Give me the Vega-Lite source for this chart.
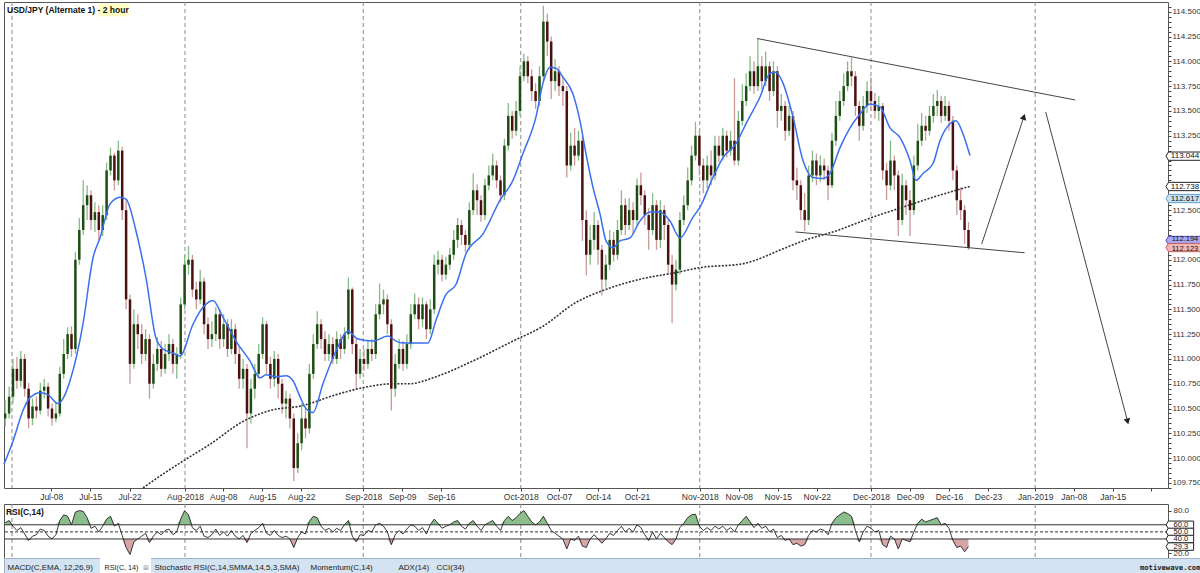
{
"$schema": "https://vega.github.io/schema/vega-lite/v6.json",
"padding": {"left": 0, "top": 1, "right": 0, "bottom": 0},
"background": "white",
"spacing": 16,
"bounds": "flush",
"config": {"view": {"stroke": "#555"}, "font": "Liberation Sans", "axis": {"labelFont": "Liberation Sans", "labelColor": "#333", "tickColor": "#444", "domainColor": "#444"}},
"datasets": {
"months": [{"t":-0.13},{"t":22.05},{"t":44.9},{"t":65.1},{"t":88.05},{"t":110},{"t":131.05}],
"bars": [
{"t":-1,"o":110.40,"h":110.58,"l":110.32,"c":110.45},
{"t":-0.5,"o":110.45,"h":110.72,"l":110.40,"c":110.62},
{"t":0,"o":110.62,"h":111.00,"l":110.55,"c":110.90},
{"t":0.5,"o":110.90,"h":111.02,"l":110.70,"c":110.78},
{"t":1,"o":110.78,"h":111.08,"l":110.72,"c":111.00},
{"t":1.5,"o":111.00,"h":111.05,"l":110.62,"c":110.70},
{"t":2,"o":110.70,"h":110.76,"l":110.30,"c":110.40},
{"t":2.5,"o":110.40,"h":110.60,"l":110.33,"c":110.52},
{"t":3,"o":110.52,"h":110.62,"l":110.40,"c":110.48},
{"t":3.5,"o":110.48,"h":110.76,"l":110.44,"c":110.68},
{"t":4,"o":110.68,"h":110.80,"l":110.60,"c":110.72},
{"t":4.5,"o":110.72,"h":110.76,"l":110.42,"c":110.50},
{"t":5,"o":110.50,"h":110.55,"l":110.33,"c":110.40},
{"t":5.5,"o":110.40,"h":110.56,"l":110.36,"c":110.45},
{"t":6,"o":110.45,"h":110.92,"l":110.42,"c":110.85},
{"t":6.5,"o":110.85,"h":111.20,"l":110.80,"c":111.05},
{"t":7,"o":111.05,"h":111.32,"l":111.00,"c":111.25},
{"t":7.5,"o":111.25,"h":111.33,"l":111.02,"c":111.10},
{"t":8,"o":111.10,"h":112.08,"l":111.05,"c":112.00},
{"t":8.5,"o":112.00,"h":112.42,"l":111.95,"c":112.30},
{"t":9,"o":112.30,"h":112.80,"l":112.25,"c":112.55},
{"t":9.5,"o":112.55,"h":112.75,"l":112.40,"c":112.65},
{"t":10,"o":112.65,"h":112.70,"l":112.30,"c":112.40},
{"t":10.5,"o":112.40,"h":112.58,"l":112.28,"c":112.48},
{"t":11,"o":112.48,"h":112.55,"l":112.20,"c":112.30},
{"t":11.5,"o":112.30,"h":112.55,"l":112.24,"c":112.45},
{"t":12,"o":112.45,"h":112.98,"l":112.40,"c":112.90},
{"t":12.5,"o":112.90,"h":113.13,"l":112.85,"c":113.05},
{"t":13,"o":113.05,"h":113.08,"l":112.70,"c":112.80},
{"t":13.5,"o":112.80,"h":113.20,"l":112.75,"c":113.10},
{"t":14,"o":113.10,"h":113.14,"l":112.40,"c":112.50},
{"t":14.5,"o":112.50,"h":112.60,"l":111.50,"c":111.60},
{"t":15,"o":111.60,"h":111.65,"l":110.75,"c":110.95},
{"t":15.5,"o":110.95,"h":111.50,"l":110.90,"c":111.35},
{"t":16,"o":111.35,"h":111.45,"l":111.10,"c":111.25},
{"t":16.5,"o":111.25,"h":111.35,"l":110.95,"c":111.05},
{"t":17,"o":111.05,"h":111.30,"l":110.98,"c":111.20},
{"t":17.5,"o":111.20,"h":111.25,"l":110.60,"c":110.75},
{"t":18,"o":110.75,"h":111.05,"l":110.70,"c":110.95},
{"t":18.5,"o":110.95,"h":111.22,"l":110.88,"c":111.10},
{"t":19,"o":111.10,"h":111.18,"l":110.82,"c":110.90},
{"t":19.5,"o":110.90,"h":111.15,"l":110.85,"c":111.05},
{"t":20,"o":111.05,"h":111.25,"l":110.98,"c":111.15},
{"t":20.5,"o":111.15,"h":111.20,"l":110.85,"c":110.95},
{"t":21,"o":110.95,"h":111.12,"l":110.80,"c":111.05},
{"t":21.5,"o":111.05,"h":111.62,"l":111.00,"c":111.55},
{"t":22,"o":111.55,"h":112.05,"l":111.50,"c":111.95},
{"t":22.5,"o":111.95,"h":112.14,"l":111.85,"c":112.00},
{"t":23,"o":112.00,"h":112.05,"l":111.62,"c":111.70},
{"t":23.5,"o":111.70,"h":111.78,"l":111.50,"c":111.60},
{"t":24,"o":111.60,"h":111.90,"l":111.55,"c":111.78},
{"t":24.5,"o":111.78,"h":111.82,"l":111.25,"c":111.35},
{"t":25,"o":111.35,"h":111.42,"l":111.10,"c":111.20},
{"t":25.5,"o":111.20,"h":111.38,"l":111.12,"c":111.25},
{"t":26,"o":111.25,"h":111.52,"l":111.18,"c":111.45},
{"t":26.5,"o":111.45,"h":111.50,"l":111.10,"c":111.20},
{"t":27,"o":111.20,"h":111.45,"l":111.12,"c":111.35},
{"t":27.5,"o":111.35,"h":111.40,"l":111.02,"c":111.10},
{"t":28,"o":111.10,"h":111.40,"l":111.05,"c":111.30},
{"t":28.5,"o":111.30,"h":111.35,"l":110.95,"c":111.05},
{"t":29,"o":111.05,"h":111.12,"l":110.70,"c":110.80},
{"t":29.5,"o":110.80,"h":111.00,"l":110.70,"c":110.90},
{"t":30,"o":110.90,"h":110.95,"l":110.10,"c":110.45},
{"t":30.5,"o":110.45,"h":110.80,"l":110.35,"c":110.70},
{"t":31,"o":110.70,"h":110.95,"l":110.60,"c":110.85},
{"t":31.5,"o":110.85,"h":111.15,"l":110.80,"c":111.05},
{"t":32,"o":111.05,"h":111.42,"l":111.00,"c":111.35},
{"t":32.5,"o":111.35,"h":111.38,"l":110.85,"c":110.95},
{"t":33,"o":110.95,"h":111.02,"l":110.70,"c":110.80},
{"t":33.5,"o":110.80,"h":111.08,"l":110.72,"c":111.00},
{"t":34,"o":111.00,"h":111.05,"l":110.60,"c":110.75},
{"t":34.5,"o":110.75,"h":110.80,"l":110.45,"c":110.55},
{"t":35,"o":110.55,"h":110.68,"l":110.40,"c":110.60},
{"t":35.5,"o":110.60,"h":110.65,"l":110.30,"c":110.40},
{"t":36,"o":110.40,"h":110.45,"l":109.77,"c":109.90},
{"t":36.5,"o":109.90,"h":110.25,"l":109.85,"c":110.15},
{"t":37,"o":110.15,"h":110.55,"l":110.08,"c":110.40},
{"t":37.5,"o":110.40,"h":110.50,"l":110.20,"c":110.30},
{"t":38,"o":110.30,"h":110.95,"l":110.25,"c":110.85},
{"t":38.5,"o":110.85,"h":111.25,"l":110.80,"c":111.15},
{"t":39,"o":111.15,"h":111.48,"l":111.10,"c":111.35},
{"t":39.5,"o":111.35,"h":111.40,"l":111.10,"c":111.20},
{"t":40,"o":111.20,"h":111.28,"l":110.98,"c":111.05},
{"t":40.5,"o":111.05,"h":111.25,"l":110.98,"c":111.15},
{"t":41,"o":111.15,"h":111.22,"l":110.95,"c":111.00},
{"t":41.5,"o":111.00,"h":111.28,"l":110.95,"c":111.20},
{"t":42,"o":111.20,"h":111.25,"l":111.00,"c":111.10},
{"t":42.5,"o":111.10,"h":111.32,"l":111.05,"c":111.25},
{"t":43,"o":111.25,"h":111.82,"l":111.20,"c":111.70},
{"t":43.5,"o":111.70,"h":111.72,"l":111.05,"c":111.15},
{"t":44,"o":111.15,"h":111.20,"l":110.69,"c":110.85},
{"t":44.5,"o":110.85,"h":111.10,"l":110.80,"c":111.00},
{"t":45,"o":111.00,"h":111.10,"l":110.88,"c":110.95},
{"t":45.5,"o":110.95,"h":111.18,"l":110.90,"c":111.10},
{"t":46,"o":111.10,"h":111.20,"l":110.98,"c":111.05},
{"t":46.5,"o":111.05,"h":111.55,"l":111.00,"c":111.45},
{"t":47,"o":111.45,"h":111.76,"l":111.40,"c":111.55},
{"t":47.5,"o":111.55,"h":111.70,"l":111.45,"c":111.60},
{"t":48,"o":111.60,"h":111.65,"l":111.25,"c":111.35},
{"t":48.5,"o":111.35,"h":111.40,"l":110.48,"c":110.70},
{"t":49,"o":110.70,"h":111.05,"l":110.62,"c":110.95},
{"t":49.5,"o":110.95,"h":111.20,"l":110.90,"c":111.10},
{"t":50,"o":111.10,"h":111.18,"l":110.88,"c":110.95},
{"t":50.5,"o":110.95,"h":111.25,"l":110.90,"c":111.15},
{"t":51,"o":111.15,"h":111.55,"l":111.10,"c":111.45},
{"t":51.5,"o":111.45,"h":111.66,"l":111.40,"c":111.55},
{"t":52,"o":111.55,"h":111.62,"l":111.30,"c":111.40},
{"t":52.5,"o":111.40,"h":111.62,"l":111.32,"c":111.55},
{"t":53,"o":111.55,"h":111.58,"l":111.20,"c":111.30},
{"t":53.5,"o":111.30,"h":111.60,"l":111.25,"c":111.50},
{"t":54,"o":111.50,"h":112.05,"l":111.45,"c":111.95},
{"t":54.5,"o":111.95,"h":112.09,"l":111.85,"c":112.00},
{"t":55,"o":112.00,"h":112.05,"l":111.78,"c":111.85},
{"t":55.5,"o":111.85,"h":112.03,"l":111.80,"c":111.95},
{"t":56,"o":111.95,"h":112.12,"l":111.90,"c":112.05},
{"t":56.5,"o":112.05,"h":112.30,"l":112.00,"c":112.20},
{"t":57,"o":112.20,"h":112.42,"l":112.12,"c":112.35},
{"t":57.5,"o":112.35,"h":112.40,"l":112.15,"c":112.25},
{"t":58,"o":112.25,"h":112.30,"l":112.08,"c":112.15},
{"t":58.5,"o":112.15,"h":112.58,"l":112.10,"c":112.50},
{"t":59,"o":112.50,"h":112.87,"l":112.45,"c":112.70},
{"t":59.5,"o":112.70,"h":112.76,"l":112.45,"c":112.60},
{"t":60,"o":112.60,"h":112.65,"l":112.38,"c":112.45},
{"t":60.5,"o":112.45,"h":112.82,"l":112.40,"c":112.75},
{"t":61,"o":112.75,"h":112.95,"l":112.70,"c":112.85},
{"t":61.5,"o":112.85,"h":113.07,"l":112.80,"c":112.95},
{"t":62,"o":112.95,"h":113.00,"l":112.72,"c":112.80},
{"t":62.5,"o":112.80,"h":112.85,"l":112.58,"c":112.65},
{"t":63,"o":112.65,"h":113.22,"l":112.60,"c":113.15},
{"t":63.5,"o":113.15,"h":113.58,"l":113.10,"c":113.45},
{"t":64,"o":113.45,"h":113.50,"l":113.22,"c":113.30},
{"t":64.5,"o":113.30,"h":113.60,"l":113.25,"c":113.50},
{"t":65,"o":113.50,"h":113.95,"l":113.45,"c":113.85},
{"t":65.5,"o":113.85,"h":114.08,"l":113.80,"c":114.00},
{"t":66,"o":114.00,"h":114.05,"l":113.78,"c":113.85},
{"t":66.5,"o":113.85,"h":113.92,"l":113.60,"c":113.70},
{"t":67,"o":113.70,"h":113.78,"l":113.52,"c":113.60},
{"t":67.5,"o":113.60,"h":113.95,"l":113.55,"c":113.85},
{"t":68,"o":113.85,"h":114.56,"l":113.80,"c":114.40},
{"t":68.5,"o":114.40,"h":114.48,"l":114.05,"c":114.20},
{"t":69,"o":114.20,"h":114.25,"l":113.62,"c":113.80},
{"t":69.5,"o":113.80,"h":114.02,"l":113.70,"c":113.90},
{"t":70,"o":113.90,"h":113.95,"l":113.65,"c":113.75},
{"t":70.5,"o":113.75,"h":113.85,"l":113.55,"c":113.70},
{"t":71,"o":113.70,"h":113.75,"l":112.83,"c":112.95},
{"t":71.5,"o":112.95,"h":113.28,"l":112.90,"c":113.15},
{"t":72,"o":113.15,"h":113.33,"l":112.95,"c":113.05},
{"t":72.5,"o":113.05,"h":113.30,"l":113.00,"c":113.20},
{"t":73,"o":113.20,"h":113.25,"l":112.19,"c":112.40},
{"t":73.5,"o":112.40,"h":112.50,"l":111.84,"c":112.05},
{"t":74,"o":112.05,"h":112.35,"l":111.95,"c":112.20},
{"t":74.5,"o":112.20,"h":112.48,"l":112.10,"c":112.35},
{"t":75,"o":112.35,"h":112.40,"l":111.95,"c":112.10},
{"t":75.5,"o":112.10,"h":112.15,"l":111.64,"c":111.80},
{"t":76,"o":111.80,"h":112.05,"l":111.72,"c":111.95},
{"t":76.5,"o":111.95,"h":112.30,"l":111.90,"c":112.20},
{"t":77,"o":112.20,"h":112.28,"l":111.98,"c":112.05},
{"t":77.5,"o":112.05,"h":112.40,"l":112.00,"c":112.30},
{"t":78,"o":112.30,"h":112.70,"l":112.25,"c":112.55},
{"t":78.5,"o":112.55,"h":112.62,"l":112.25,"c":112.35},
{"t":79,"o":112.35,"h":112.62,"l":112.30,"c":112.50},
{"t":79.5,"o":112.50,"h":112.58,"l":112.26,"c":112.40},
{"t":80,"o":112.40,"h":112.82,"l":112.35,"c":112.75},
{"t":80.5,"o":112.75,"h":112.88,"l":112.55,"c":112.65},
{"t":81,"o":112.65,"h":112.70,"l":112.35,"c":112.45},
{"t":81.5,"o":112.45,"h":112.52,"l":112.10,"c":112.30},
{"t":82,"o":112.30,"h":112.67,"l":112.25,"c":112.55},
{"t":82.5,"o":112.55,"h":112.60,"l":112.10,"c":112.20},
{"t":83,"o":112.20,"h":112.60,"l":112.12,"c":112.50},
{"t":83.5,"o":112.50,"h":112.55,"l":112.20,"c":112.35},
{"t":84,"o":112.35,"h":112.40,"l":111.85,"c":111.95},
{"t":84.5,"o":111.95,"h":112.05,"l":111.36,"c":111.75},
{"t":85,"o":111.75,"h":112.00,"l":111.69,"c":111.90},
{"t":85.5,"o":111.90,"h":112.48,"l":111.85,"c":112.40},
{"t":86,"o":112.40,"h":112.65,"l":112.35,"c":112.55},
{"t":86.5,"o":112.55,"h":112.93,"l":112.50,"c":112.80},
{"t":87,"o":112.80,"h":113.15,"l":112.75,"c":113.05},
{"t":87.5,"o":113.05,"h":113.39,"l":113.00,"c":113.25},
{"t":88,"o":113.25,"h":113.30,"l":112.85,"c":112.95},
{"t":88.5,"o":112.95,"h":113.02,"l":112.67,"c":112.80},
{"t":89,"o":112.80,"h":113.05,"l":112.72,"c":112.95},
{"t":89.5,"o":112.95,"h":113.10,"l":112.75,"c":112.85},
{"t":90,"o":112.85,"h":113.25,"l":112.80,"c":113.15},
{"t":90.5,"o":113.15,"h":113.25,"l":112.98,"c":113.05},
{"t":91,"o":113.05,"h":113.33,"l":113.00,"c":113.25},
{"t":91.5,"o":113.25,"h":113.30,"l":113.03,"c":113.10},
{"t":92,"o":113.10,"h":113.30,"l":113.05,"c":113.20},
{"t":92.5,"o":113.20,"h":113.83,"l":112.95,"c":113.00},
{"t":93,"o":113.00,"h":113.50,"l":112.95,"c":113.40},
{"t":93.5,"o":113.40,"h":113.77,"l":113.35,"c":113.60},
{"t":94,"o":113.60,"h":113.88,"l":113.55,"c":113.75},
{"t":94.5,"o":113.75,"h":114.05,"l":113.70,"c":113.90},
{"t":95,"o":113.90,"h":114.00,"l":113.67,"c":113.75},
{"t":95.5,"o":113.75,"h":114.23,"l":113.70,"c":113.95},
{"t":96,"o":113.95,"h":114.05,"l":113.72,"c":113.80},
{"t":96.5,"o":113.80,"h":114.10,"l":113.75,"c":113.95},
{"t":97,"o":113.95,"h":114.00,"l":113.60,"c":113.70},
{"t":97.5,"o":113.70,"h":114.00,"l":113.65,"c":113.90},
{"t":98,"o":113.90,"h":113.95,"l":113.33,"c":113.50},
{"t":98.5,"o":113.50,"h":113.67,"l":113.40,"c":113.55},
{"t":99,"o":113.55,"h":113.60,"l":113.20,"c":113.30},
{"t":99.5,"o":113.30,"h":113.55,"l":113.25,"c":113.45},
{"t":100,"o":113.45,"h":113.50,"l":112.70,"c":112.80},
{"t":100.5,"o":112.80,"h":112.93,"l":112.60,"c":112.75},
{"t":101,"o":112.75,"h":112.80,"l":112.40,"c":112.50},
{"t":101.5,"o":112.50,"h":112.67,"l":112.29,"c":112.40},
{"t":102,"o":112.40,"h":112.95,"l":112.35,"c":112.85},
{"t":102.5,"o":112.85,"h":113.10,"l":112.78,"c":113.00},
{"t":103,"o":113.00,"h":113.07,"l":112.75,"c":112.85},
{"t":103.5,"o":112.85,"h":113.05,"l":112.78,"c":112.95},
{"t":104,"o":112.95,"h":113.02,"l":112.80,"c":112.90},
{"t":104.5,"o":112.90,"h":112.95,"l":112.60,"c":112.75},
{"t":105,"o":112.75,"h":113.28,"l":112.72,"c":113.20},
{"t":105.5,"o":113.20,"h":113.60,"l":113.15,"c":113.45},
{"t":106,"o":113.45,"h":113.70,"l":113.40,"c":113.60},
{"t":106.5,"o":113.60,"h":113.88,"l":113.55,"c":113.75},
{"t":107,"o":113.75,"h":114.00,"l":113.70,"c":113.90},
{"t":107.5,"o":113.90,"h":114.04,"l":113.75,"c":113.85},
{"t":108,"o":113.85,"h":113.90,"l":113.45,"c":113.55},
{"t":108.5,"o":113.55,"h":113.60,"l":113.20,"c":113.35},
{"t":109,"o":113.35,"h":113.65,"l":113.30,"c":113.55},
{"t":109.5,"o":113.55,"h":113.80,"l":113.48,"c":113.70},
{"t":110,"o":113.70,"h":113.84,"l":113.50,"c":113.60},
{"t":110.5,"o":113.60,"h":113.68,"l":113.42,"c":113.50},
{"t":111,"o":113.50,"h":113.65,"l":113.40,"c":113.55},
{"t":111.5,"o":113.55,"h":113.58,"l":112.80,"c":112.90},
{"t":112,"o":112.90,"h":112.98,"l":112.60,"c":112.75},
{"t":112.5,"o":112.75,"h":113.20,"l":112.70,"c":113.00},
{"t":113,"o":113.00,"h":113.05,"l":112.70,"c":112.85},
{"t":113.5,"o":112.85,"h":112.90,"l":112.24,"c":112.40},
{"t":114,"o":112.40,"h":112.87,"l":112.35,"c":112.75},
{"t":114.5,"o":112.75,"h":112.80,"l":112.45,"c":112.60},
{"t":115,"o":112.60,"h":112.70,"l":112.24,"c":112.50},
{"t":115.5,"o":112.50,"h":113.05,"l":112.45,"c":112.95},
{"t":116,"o":112.95,"h":113.37,"l":112.90,"c":113.20},
{"t":116.5,"o":113.20,"h":113.48,"l":113.15,"c":113.35},
{"t":117,"o":113.35,"h":113.45,"l":113.20,"c":113.30},
{"t":117.5,"o":113.30,"h":113.55,"l":113.25,"c":113.45},
{"t":118,"o":113.45,"h":113.67,"l":113.38,"c":113.55},
{"t":118.5,"o":113.55,"h":113.71,"l":113.45,"c":113.60},
{"t":119,"o":113.60,"h":113.65,"l":113.38,"c":113.45},
{"t":119.5,"o":113.45,"h":113.65,"l":113.40,"c":113.55},
{"t":120,"o":113.55,"h":113.60,"l":113.30,"c":113.40},
{"t":120.5,"o":113.40,"h":113.45,"l":112.80,"c":112.90},
{"t":121,"o":112.90,"h":112.95,"l":112.45,"c":112.60},
{"t":121.5,"o":112.60,"h":112.73,"l":112.40,"c":112.50},
{"t":122,"o":112.50,"h":112.55,"l":112.16,"c":112.30},
{"t":122.5,"o":112.30,"h":112.38,"l":112.10,"c":112.12}
],
"ma": [
{"t":-1.15,"v":109.94},{"t":0,"v":110.17},{"t":1.28,"v":110.48},{"t":2.18,"v":110.61},{"t":3.46,"v":110.66},{"t":4.49,"v":110.64},{"t":5.77,"v":110.55},{"t":6.41,"v":110.6},{"t":7.31,"v":110.78},{"t":8.97,"v":111.35},{"t":10.26,"v":112.02},{"t":11.15,"v":112.22},{"t":12.44,"v":112.56},{"t":13.72,"v":112.63},{"t":14.49,"v":112.61},{"t":15.77,"v":112.29},{"t":17.05,"v":111.82},{"t":18.33,"v":111.21},{"t":19.23,"v":111.1},{"t":20.51,"v":111.06},{"t":21.41,"v":111.03},{"t":23.08,"v":111.35},{"t":24.36,"v":111.52},{"t":25.64,"v":111.59},{"t":26.92,"v":111.42},{"t":28.59,"v":111.18},{"t":30.38,"v":110.98},{"t":31.67,"v":110.81},{"t":32.44,"v":110.84},{"t":33.72,"v":110.82},{"t":35.0,"v":110.83},{"t":35.9,"v":110.78},{"t":36.79,"v":110.62},{"t":37.56,"v":110.5},{"t":38.46,"v":110.46},{"t":39.74,"v":110.75},{"t":41.41,"v":111.08},{"t":42.95,"v":111.28},{"t":44.23,"v":111.2},{"t":46.15,"v":111.18},{"t":48.08,"v":111.23},{"t":49.1,"v":111.18},{"t":50.0,"v":111.16},{"t":53.2,"v":111.16},{"t":54.23,"v":111.39},{"t":55.51,"v":111.65},{"t":56.79,"v":111.75},{"t":58.08,"v":112.06},{"t":60.26,"v":112.26},{"t":62.44,"v":112.6},{"t":64.1,"v":112.8},{"t":65.38,"v":113.07},{"t":67.05,"v":113.44},{"t":67.95,"v":113.78},{"t":68.85,"v":113.94},{"t":69.62,"v":113.93},{"t":70.51,"v":113.84},{"t":71.79,"v":113.67},{"t":72.69,"v":113.4},{"t":73.46,"v":113.07},{"t":74.36,"v":112.73},{"t":75.26,"v":112.46},{"t":76.03,"v":112.19},{"t":76.92,"v":112.12},{"t":77.82,"v":112.19},{"t":79.1,"v":112.22},{"t":80.38,"v":112.39},{"t":81.67,"v":112.48},{"t":82.95,"v":112.48},{"t":84.23,"v":112.39},{"t":85.51,"v":112.22},{"t":87.18,"v":112.43},{"t":88.08,"v":112.53},{"t":89.74,"v":112.83},{"t":91.03,"v":113.03},{"t":92.69,"v":113.17},{"t":93.97,"v":113.37},{"t":95.77,"v":113.64},{"t":97.05,"v":113.88},{"t":97.82,"v":113.89},{"t":98.72,"v":113.78},{"t":100.0,"v":113.44},{"t":101.28,"v":113.0},{"t":102.56,"v":112.83},{"t":103.85,"v":112.82},{"t":104.74,"v":112.87},{"t":106.03,"v":113.13},{"t":107.31,"v":113.33},{"t":108.59,"v":113.47},{"t":109.87,"v":113.57},{"t":111.15,"v":113.54},{"t":112.44,"v":113.33},{"t":113.72,"v":113.23},{"t":115.0,"v":113.0},{"t":115.77,"v":112.8},{"t":116.67,"v":112.87},{"t":117.95,"v":112.97},{"t":118.85,"v":113.2},{"t":120.13,"v":113.37},{"t":120.9,"v":113.4},{"t":121.79,"v":113.27},{"t":122.69,"v":113.05}
],
"ma200": [
{"t":16.67,"v":109.70},{"t":19.23,"v":109.84},{"t":21.79,"v":109.97},{"t":25.26,"v":110.14},{"t":29.49,"v":110.37},{"t":32.95,"v":110.48},{"t":37.18,"v":110.53},{"t":41.03,"v":110.63},{"t":44.87,"v":110.71},{"t":48.72,"v":110.75},{"t":50.9,"v":110.75},{"t":53.85,"v":110.81},{"t":58.97,"v":110.98},{"t":64.1,"v":111.18},{"t":67.95,"v":111.33},{"t":72.18,"v":111.57},{"t":75.64,"v":111.69},{"t":80.77,"v":111.81},{"t":85.0,"v":111.87},{"t":88.08,"v":111.92},{"t":93.59,"v":111.96},{"t":98.72,"v":112.11},{"t":101.28,"v":112.19},{"t":105.51,"v":112.29},{"t":110.26,"v":112.43},{"t":114.1,"v":112.53},{"t":117.95,"v":112.63},{"t":122.69,"v":112.74}
],
"lines": [
{"seg":"upper","t":95.4,"v":114.23},{"seg":"upper","t":136.2,"v":113.61},
{"seg":"lower","t":100.3,"v":112.28},{"seg":"lower","t":129.7,"v":112.07},
{"seg":"a1","t":124.2,"v":112.16},{"seg":"a1","t":129.6,"v":113.44},
{"seg":"a2","t":132.4,"v":113.49},{"seg":"a2","t":142.9,"v":110.37}
],
"boxes": [
{"v":113.044,"label":"113.044"},{"v":112.738,"label":"112.738"},{"v":112.617,"label":"112.617"},{"v":112.194,"label":"112.194"},{"v":112.123,"label":"112.123"}
],
"rsiboxes": [
{"v":60,"label":"60.0"},{"v":50,"label":"50.0"},{"v":40,"label":"40.0"},{"v":29.3,"label":"29.3"}
],
"rsi": [
{"t":-1,"r":63},{"t":-0.5,"r":66},{"t":0,"r":58},{"t":0.5,"r":52},{"t":1,"r":56},{"t":1.5,"r":47},{"t":2,"r":38},{"t":2.5,"r":44},{"t":3,"r":46},{"t":3.5,"r":54},{"t":4,"r":52},{"t":4.5,"r":44},{"t":5,"r":40},{"t":5.5,"r":46},{"t":6,"r":66},{"t":6.5,"r":74},{"t":7,"r":72},{"t":7.5,"r":60},{"t":8,"r":78},{"t":8.5,"r":80},{"t":9,"r":79},{"t":9.5,"r":70},{"t":10,"r":55},{"t":10.5,"r":58},{"t":11,"r":50},{"t":11.5,"r":58},{"t":12,"r":68},{"t":12.5,"r":72},{"t":13,"r":58},{"t":13.5,"r":62},{"t":14,"r":45},{"t":14.5,"r":28},{"t":15,"r":18},{"t":15.5,"r":36},{"t":16,"r":40},{"t":16.5,"r":44},{"t":17,"r":48},{"t":17.5,"r":35},{"t":18,"r":44},{"t":18.5,"r":50},{"t":19,"r":46},{"t":19.5,"r":52},{"t":20,"r":54},{"t":20.5,"r":46},{"t":21,"r":50},{"t":21.5,"r":68},{"t":22,"r":80},{"t":22.5,"r":74},{"t":23,"r":56},{"t":23.5,"r":52},{"t":24,"r":58},{"t":24.5,"r":44},{"t":25,"r":42},{"t":25.5,"r":46},{"t":26,"r":54},{"t":26.5,"r":45},{"t":27,"r":50},{"t":27.5,"r":44},{"t":28,"r":52},{"t":28.5,"r":44},{"t":29,"r":40},{"t":29.5,"r":45},{"t":30,"r":35},{"t":30.5,"r":48},{"t":31,"r":52},{"t":31.5,"r":56},{"t":32,"r":62},{"t":32.5,"r":48},{"t":33,"r":45},{"t":33.5,"r":52},{"t":34,"r":45},{"t":34.5,"r":42},{"t":35,"r":44},{"t":35.5,"r":40},{"t":36,"r":28},{"t":36.5,"r":42},{"t":37,"r":50},{"t":37.5,"r":47},{"t":38,"r":65},{"t":38.5,"r":72},{"t":39,"r":70},{"t":39.5,"r":58},{"t":40,"r":52},{"t":40.5,"r":55},{"t":41,"r":50},{"t":41.5,"r":55},{"t":42,"r":52},{"t":42.5,"r":60},{"t":43,"r":66},{"t":43.5,"r":44},{"t":44,"r":36},{"t":44.5,"r":46},{"t":45,"r":45},{"t":45.5,"r":52},{"t":46,"r":50},{"t":46.5,"r":60},{"t":47,"r":62},{"t":47.5,"r":58},{"t":48,"r":50},{"t":48.5,"r":32},{"t":49,"r":46},{"t":49.5,"r":52},{"t":50,"r":47},{"t":50.5,"r":54},{"t":51,"r":60},{"t":51.5,"r":58},{"t":52,"r":52},{"t":52.5,"r":56},{"t":53,"r":47},{"t":53.5,"r":60},{"t":54,"r":68},{"t":54.5,"r":62},{"t":55,"r":55},{"t":55.5,"r":58},{"t":56,"r":60},{"t":56.5,"r":64},{"t":57,"r":66},{"t":57.5,"r":58},{"t":58,"r":54},{"t":58.5,"r":62},{"t":59,"r":66},{"t":59.5,"r":58},{"t":60,"r":52},{"t":60.5,"r":60},{"t":61,"r":63},{"t":61.5,"r":66},{"t":62,"r":58},{"t":62.5,"r":52},{"t":63,"r":66},{"t":63.5,"r":72},{"t":64,"r":66},{"t":64.5,"r":70},{"t":65,"r":76},{"t":65.5,"r":80},{"t":66,"r":72},{"t":66.5,"r":64},{"t":67,"r":60},{"t":67.5,"r":64},{"t":68,"r":72},{"t":68.5,"r":62},{"t":69,"r":52},{"t":69.5,"r":48},{"t":70,"r":44},{"t":70.5,"r":40},{"t":71,"r":26},{"t":71.5,"r":40},{"t":72,"r":38},{"t":72.5,"r":44},{"t":73,"r":30},{"t":73.5,"r":28},{"t":74,"r":40},{"t":74.5,"r":46},{"t":75,"r":40},{"t":75.5,"r":34},{"t":76,"r":40},{"t":76.5,"r":48},{"t":77,"r":45},{"t":77.5,"r":52},{"t":78,"r":58},{"t":78.5,"r":50},{"t":79,"r":55},{"t":79.5,"r":50},{"t":80,"r":60},{"t":80.5,"r":56},{"t":81,"r":46},{"t":81.5,"r":38},{"t":82,"r":50},{"t":82.5,"r":40},{"t":83,"r":48},{"t":83.5,"r":42},{"t":84,"r":36},{"t":84.5,"r":32},{"t":85,"r":40},{"t":85.5,"r":56},{"t":86,"r":62},{"t":86.5,"r":70},{"t":87,"r":74},{"t":87.5,"r":75},{"t":88,"r":58},{"t":88.5,"r":52},{"t":89,"r":56},{"t":89.5,"r":52},{"t":90,"r":58},{"t":90.5,"r":54},{"t":91,"r":58},{"t":91.5,"r":52},{"t":92,"r":56},{"t":92.5,"r":50},{"t":93,"r":60},{"t":93.5,"r":66},{"t":94,"r":72},{"t":94.5,"r":64},{"t":95,"r":56},{"t":95.5,"r":62},{"t":96,"r":55},{"t":96.5,"r":58},{"t":97,"r":50},{"t":97.5,"r":54},{"t":98,"r":42},{"t":98.5,"r":45},{"t":99,"r":38},{"t":99.5,"r":40},{"t":100,"r":32},{"t":100.5,"r":34},{"t":101,"r":30},{"t":101.5,"r":32},{"t":102,"r":45},{"t":102.5,"r":52},{"t":103,"r":50},{"t":103.5,"r":54},{"t":104,"r":52},{"t":104.5,"r":46},{"t":105,"r":62},{"t":105.5,"r":70},{"t":106,"r":74},{"t":106.5,"r":78},{"t":107,"r":76},{"t":107.5,"r":72},{"t":108,"r":52},{"t":108.5,"r":36},{"t":109,"r":50},{"t":109.5,"r":58},{"t":110,"r":55},{"t":110.5,"r":50},{"t":111,"r":52},{"t":111.5,"r":32},{"t":112,"r":28},{"t":112.5,"r":44},{"t":113,"r":40},{"t":113.5,"r":26},{"t":114,"r":40},{"t":114.5,"r":38},{"t":115,"r":36},{"t":115.5,"r":50},{"t":116,"r":62},{"t":116.5,"r":68},{"t":117,"r":64},{"t":117.5,"r":66},{"t":118,"r":68},{"t":118.5,"r":70},{"t":119,"r":60},{"t":119.5,"r":62},{"t":120,"r":55},{"t":120.5,"r":38},{"t":121,"r":28},{"t":121.5,"r":30},{"t":122,"r":22},{"t":122.5,"r":29.3}
]
},
"vconcat": [
{
"width": 1164, "height": 486,
"layer": [
{"data": {"name": "months"}, "mark": {"type": "rule", "color": "#8a8a8a", "strokeDash": [4, 3], "strokeWidth": 1},
 "encoding": {"x": {"field": "t", "type": "quantitative", "scale": {"domain": [-1.154, 148.08], "nice": false, "zero": false},
   "axis": {"orient": "bottom", "values": [4.9,9.9,14.95,22.05,26.95,31.95,36.95,44.9,49.9,54.9,65.1,70,75,80,88.05,93.05,98.05,103.05,110,115,120,125,131.05,136,141,145.9],
    "labelExpr": "['Jul-08','Jul-15','Jul-22','Aug-2018','Aug-08','Aug-15','Aug-22','Sep-2018','Sep-09','Sep-16','Oct-2018','Oct-07','Oct-14','Oct-21','Nov-2018','Nov-08','Nov-15','Nov-22','Dec-2018','Dec-09','Dec-16','Dec-23','Jan-2019','Jan-08','Jan-15',''][indexof([4.9,9.9,14.95,22.05,26.95,31.95,36.95,44.9,49.9,54.9,65.1,70,75,80,88.05,93.05,98.05,103.05,110,115,120,125,131.05,136,141,145.9], datum.value)]",
    "labelFontSize": 8.5, "tickSize": 3, "labelPadding": 1, "domain": false, "grid": false, "title": null, "labelFlush": false}}}},
{"data": {"name": "bars"}, "mark": {"type": "rule", "strokeWidth": 1.3},
 "encoding": {
  "x": {"field": "t", "type": "quantitative"},
  "y": {"field": "l", "type": "quantitative", "scale": {"domain": [109.699, 114.598], "nice": false, "zero": false},
   "axis": {"orient": "right", "tickCount": 100,
    "labelExpr": "(abs(datum.value*4 - round(datum.value*4)) < 0.01 && abs(datum.value - 113) > 0.01 && abs(datum.value - 112.75) > 0.01 && abs(datum.value - 112.25) > 0.01) ? format(datum.value, '.3f') : ''",
    "tickSize": 3, "labelFontSize": 8, "labelPadding": 1, "domain": false, "grid": false, "title": null, "labelOverlap": false}},
  "y2": {"field": "h"},
  "color": {"condition": {"test": "datum.c >= datum.o", "value": "#86bb86"}, "value": "#c99a9a"}}},
{"data": {"name": "bars"}, "mark": {"type": "rule", "strokeWidth": 2.5},
 "encoding": {
  "x": {"field": "t", "type": "quantitative"},
  "y": {"field": "o", "type": "quantitative"},
  "y2": {"field": "c"},
  "color": {"condition": {"test": "datum.c >= datum.o", "value": "#1d4d12"}, "value": "#4d1010"}}},
{"data": {"name": "ma200"}, "mark": {"type": "line", "color": "#333", "strokeWidth": 1.6, "strokeDash": [2, 1.5], "interpolate": "monotone"},
 "encoding": {"x": {"field": "t", "type": "quantitative"}, "y": {"field": "v", "type": "quantitative"}}},
{"data": {"name": "ma"}, "mark": {"type": "line", "color": "#3a6ff0", "strokeWidth": 1.5, "interpolate": "monotone"},
 "encoding": {"x": {"field": "t", "type": "quantitative"}, "y": {"field": "v", "type": "quantitative"}}},
{"data": {"name": "lines"}, "mark": {"type": "line", "color": "#444", "strokeWidth": 1},
 "encoding": {"detail": {"field": "seg", "type": "nominal"}, "x": {"field": "t", "type": "quantitative"}, "y": {"field": "v", "type": "quantitative"}}},
{"data": {"name": "lines"}, "transform": [{"filter": "datum.seg == 'a1' && datum.t > 129"}], "mark": {"type": "point", "shape": "triangle-up", "filled": true, "color": "#222", "size": 45, "angle": 18, "opacity": 1},
 "encoding": {"x": {"field": "t", "type": "quantitative"}, "y": {"field": "v", "type": "quantitative"}}},
{"data": {"name": "lines"}, "transform": [{"filter": "datum.seg == 'a2' && datum.t > 140"}], "mark": {"type": "point", "shape": "triangle-up", "filled": true, "color": "#222", "size": 45, "angle": 165, "opacity": 1},
 "encoding": {"x": {"field": "t", "type": "quantitative"}, "y": {"field": "v", "type": "quantitative"}}},
{"data": {"name": "boxes"}, "mark": {"type": "point", "shape": "M-1,0L-0.86,-0.23L1,-0.23L1,0.23L-0.86,0.23Z", "filled": true, "size": 1300, "opacity": 1, "strokeWidth": 1},
 "encoding": {
  "x": {"datum": 150.13, "type": "quantitative"},
  "y": {"field": "v", "type": "quantitative"},
  "fill": {"field": "label", "type": "nominal", "scale": {"domain": ["113.044","112.738","112.617","112.194","112.123"], "range": ["#ffffff","#ffffff","#c4e2f2","#a9a9f5","#f5b5b5"]}, "legend": null},
  "stroke": {"field": "label", "type": "nominal", "scale": {"domain": ["113.044","112.738","112.617","112.194","112.123"], "range": ["#222222","#222222","#5aa0d0","#5050c0","#c06060"]}, "legend": null}}},
{"data": {"name": "boxes"}, "transform": [{"filter": "datum.label != '112.194' && datum.label != '112.123'"}], "mark": {"type": "text", "fontSize": 8, "color": "#111", "align": "center", "baseline": "middle", "dx": 1},
 "encoding": {"x": {"datum": 150.13, "type": "quantitative"}, "y": {"field": "v", "type": "quantitative"}, "text": {"field": "label"}}},
{"data": {"name": "boxes"}, "transform": [{"filter": "datum.label == '112.194'"}], "mark": {"type": "text", "fontSize": 7.5, "color": "#111", "align": "center", "baseline": "middle", "dx": 1, "dy": -1.5},
 "encoding": {"x": {"datum": 150.13, "type": "quantitative"}, "y": {"field": "v", "type": "quantitative"}, "text": {"field": "label"}}},
{"data": {"name": "boxes"}, "transform": [{"filter": "datum.label == '112.123'"}], "mark": {"type": "text", "fontSize": 7.5, "color": "#111", "align": "center", "baseline": "middle", "dx": 1, "dy": 1.5},
 "encoding": {"x": {"datum": 150.13, "type": "quantitative"}, "y": {"field": "v", "type": "quantitative"}, "text": {"field": "label"}}},
{"data": {"values": [{"txt": "2 hour"}]}, "mark": {"type": "point", "shape": "M-1,-0.42L1,-0.42L1,0.42L-1,0.42Z", "filled": true, "color": "#ffffc4", "size": 900, "opacity": 1},
 "encoding": {"x": {"datum": 12.9, "type": "quantitative"}, "y": {"datum": 114.517, "type": "quantitative"}}},
{"data": {"values": [{"txt": "USD/JPY (Alternate 1) - 2 hour"}]}, "mark": {"type": "text", "fontSize": 8.5, "fontWeight": "bold", "color": "#111", "align": "left", "baseline": "middle"},
 "encoding": {"x": {"datum": -0.77, "type": "quantitative"}, "y": {"datum": 114.522, "type": "quantitative"}, "text": {"field": "txt"}}}
]
},
{
"spacing": 0,
"bounds": "flush",
"vconcat": [
{
"width": 1164, "height": 54,
"resolve": {"scale": {"y": "independent"}},
"layer": [
{"data": {"name": "months"}, "mark": {"type": "rule", "color": "#8a8a8a", "strokeDash": [4, 3], "strokeWidth": 1},
 "encoding": {"x": {"field": "t", "type": "quantitative", "scale": {"domain": [-1.154, 148.08], "nice": false, "zero": false}, "axis": null}}},
{"data": {"name": "rsi"}, "mark": {"type": "area", "color": "#8cbd8c", "opacity": 1},
 "encoding": {
  "x": {"field": "t", "type": "quantitative", "scale": {"domain": [-1.154, 148.08], "nice": false, "zero": false}, "axis": null},
  "y": {"field": "r", "type": "quantitative", "scale": {"domain": [60, 89.3], "range": [20.79, 0], "clamp": true, "nice": false, "zero": false}, "axis": null},
  "y2": {"datum": 60}}},
{"data": {"name": "rsi"}, "mark": {"type": "area", "color": "#d6a6a6", "opacity": 1},
 "encoding": {
  "x": {"field": "t", "type": "quantitative", "scale": {"domain": [-1.154, 148.08], "nice": false, "zero": false}, "axis": null},
  "y": {"field": "r", "type": "quantitative", "scale": {"domain": [13.2, 40], "range": [54, 34.98], "clamp": true, "nice": false, "zero": false}, "axis": null},
  "y2": {"datum": 40}}},
{"data": {"values": [{"lv": 60}, {"lv": 40}]}, "mark": {"type": "rule", "color": "#333", "strokeWidth": 1},
 "encoding": {"y": {"field": "lv", "type": "quantitative", "scale": {"domain": [13.2, 89.3], "nice": false, "zero": false}, "axis": null}}},
{"data": {"values": [{"lv": 50}]}, "mark": {"type": "rule", "color": "#333", "strokeWidth": 1, "strokeDash": [3, 2]},
 "encoding": {"y": {"field": "lv", "type": "quantitative", "scale": {"domain": [13.2, 89.3], "nice": false, "zero": false}, "axis": null}}},
{"data": {"name": "rsi"}, "mark": {"type": "line", "color": "#222", "strokeWidth": 0.9},
 "encoding": {
  "x": {"field": "t", "type": "quantitative", "scale": {"domain": [-1.154, 148.08], "nice": false, "zero": false}, "axis": null},
  "y": {"field": "r", "type": "quantitative", "scale": {"domain": [13.2, 89.3], "nice": false, "zero": false},
   "axis": {"orient": "right", "values": [20, 80], "format": ".1f", "labelFontSize": 8, "tickSize": 3, "labelPadding": 2, "domain": false, "grid": false, "title": null, "labelColor": "#333"}}}},
{"data": {"name": "rsiboxes"}, "mark": {"type": "point", "shape": "M-1,0L-0.84,-0.27L1,-0.27L1,0.27L-0.84,0.27Z", "filled": true, "size": 760, "opacity": 1, "fill": "white", "stroke": "#222", "strokeWidth": 1},
 "encoding": {
  "x": {"datum": 149.6, "type": "quantitative", "scale": {"domain": [-1.154, 148.08], "nice": false, "zero": false}, "axis": null},
  "y": {"field": "v", "type": "quantitative", "scale": {"domain": [13.2, 89.3], "nice": false, "zero": false}, "axis": null}}},
{"data": {"name": "rsiboxes"}, "mark": {"type": "text", "fontSize": 7.5, "color": "#111", "align": "center", "baseline": "middle", "dx": 1},
 "encoding": {
  "x": {"datum": 149.6, "type": "quantitative", "scale": {"domain": [-1.154, 148.08], "nice": false, "zero": false}, "axis": null},
  "y": {"field": "v", "type": "quantitative", "scale": {"domain": [13.2, 89.3], "nice": false, "zero": false}, "axis": null},
  "text": {"field": "label"}}},
{"data": {"values": [{"txt": "RSI(C,14)"}]}, "mark": {"type": "text", "fontSize": 8.5, "fontWeight": "bold", "color": "#111", "align": "left", "baseline": "middle"},
 "encoding": {
  "x": {"datum": -0.9, "type": "quantitative", "scale": {"domain": [-1.154, 148.08], "nice": false, "zero": false}, "axis": null},
  "y": {"datum": 78, "type": "quantitative", "scale": {"domain": [13.2, 89.3], "nice": false, "zero": false}, "axis": null},
  "text": {"field": "txt"}}}
]
},
{
"width": 1199, "height": 16,
"view": {"fill": "#d4e3f1", "stroke": "#9fb3c8"},
"data": {"values": [{"k": 1}]},
"layer": [
{"mark": {"type": "rect", "color": "#ffffff"},
 "encoding": {
  "x": {"datum": 96, "type": "quantitative", "scale": {"domain": [0, 1199], "nice": false, "zero": false},
   "axis": {"orient": "bottom", "zindex": 1, "values": [3, 100, 138, 150, 306, 394, 432, 1196],
    "labelExpr": "['MACD(C,EMA, 12,26,9)','RSI(C, 14)','⊠','Stochastic RSI(C,14,SMMA,14,5,3,SMA)','Momentum(C,14)','ADX(14)','CCI(34)','motivewave.com'][indexof([3,100,138,150,306,394,432,1196], datum.value)]",
    "labelAlign": {"condition": {"test": "datum.value > 1000", "value": "right"}, "value": "left"},
    "labelFontSize": {"condition": {"test": "datum.value > 1000 || datum.value == 100 || datum.value == 138", "value": 7.2}, "value": 8},
    "labelFont": {"condition": {"test": "datum.value > 1000", "value": "DejaVu Sans Mono"}, "value": "Liberation Sans"},
    "labelFontWeight": {"condition": {"test": "datum.value > 1000", "value": "bold"}, "value": "normal"},
    "labelColor": {"condition": {"test": "datum.value == 138", "value": "#999999"}, "value": "#222222"},
    "labelBaseline": "middle", "labelPadding": -7, "ticks": false, "tickSize": 0, "domain": false, "grid": false, "title": null,
    "labelOverlap": false, "labelFlush": false}},
  "x2": {"datum": 147}}}
]
}
]
}
]
}
